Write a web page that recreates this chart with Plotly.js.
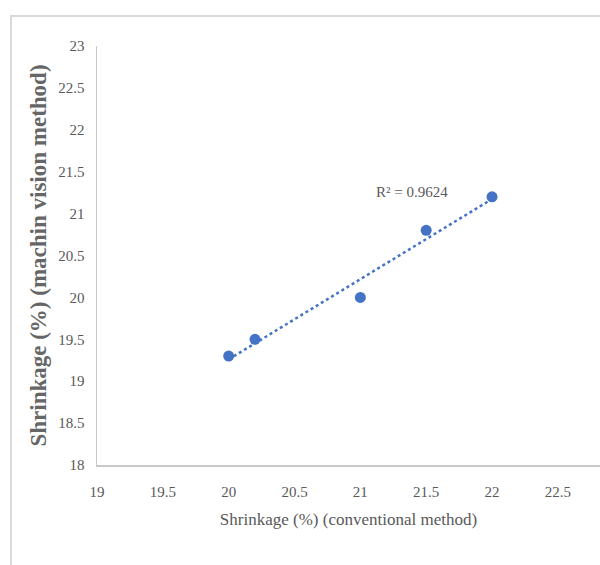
<!DOCTYPE html>
<html>
<head>
<meta charset="utf-8">
<script src="https://cdn.plot.ly/plotly-3.0.1.min.js"></script>
<style>html,body{margin:0;padding:0;background:#fff;}#chart{width:600px;height:565px;}</style>
</head>
<body>
<div id="chart"></div>
<script>
var conventional = [20, 20.2, 21, 21.5, 22];
var machineVision = [19.3, 19.5, 20, 20.8, 21.2];
var r2Label = 'R² = 0.9624';
var xTitle = 'Shrinkage (%) (conventional method)';
var yTitle = 'Shrinkage (%) (machin vision method)';

// least-squares trendline from the data
var n = conventional.length, mx = 0, my = 0;
for (var i = 0; i < n; i++) { mx += conventional[i]; my += machineVision[i]; }
mx /= n; my /= n;
var sxy = 0, sxx = 0;
for (var i = 0; i < n; i++) { sxy += (conventional[i]-mx)*(machineVision[i]-my); sxx += (conventional[i]-mx)*(conventional[i]-mx); }
var slope = sxy / sxx, icpt = my - slope * mx;
var xmin = Math.min.apply(null, conventional), xmax = Math.max.apply(null, conventional);
var trendX = [xmin, xmax];
var trendY = [icpt + slope * xmin, icpt + slope * xmax];

var font = 'Liberation Serif, Times New Roman, serif';
var grey = '#595959';

var traces = [
  {x: trendX, y: trendY, mode: 'lines', line: {color: '#4472C4', width: 2.5, dash: 'dot'}, hoverinfo: 'skip', showlegend: false},
  {x: conventional, y: machineVision, mode: 'markers', marker: {color: '#4472C4', size: 11}, showlegend: false}
];

var layout = {
  width: 600, height: 565,
  margin: {l: 97, r: 0, t: 46, b: 100},
  paper_bgcolor: '#fff', plot_bgcolor: '#fff',
  font: {family: font, color: grey, size: 15},
  xaxis: {
    range: [19, 22.82], dtick: 0.5, tick0: 19, showgrid: false, zeroline: false,
    showline: true, linecolor: '#c8c8c8', linewidth: 1.5, ticks: '',
    ticklabelstandoff: 12,
    tickfont: {family: font, size: 15, color: grey},
    title: {text: xTitle, font: {family: font, size: 17, color: grey}, standoff: 14}
  },
  yaxis: {
    range: [18, 23], dtick: 0.5, tick0: 18, showgrid: false, zeroline: false,
    showline: true, linecolor: '#c8c8c8', linewidth: 1.5, ticks: '',
    ticklabelstandoff: 8,
    tickfont: {family: font, size: 15, color: grey},
    title: {text: '<b>' + yTitle + '</b>', font: {family: font, size: 23, color: '#666666'}, standoff: 5}
  },
  annotations: [
    {x: 21.39, y: 21.26, xref: 'x', yref: 'y', text: r2Label, showarrow: false,
     font: {family: font, size: 15, color: grey}}
  ],
  shapes: [
    {type: 'rect', xref: 'paper', yref: 'paper', x0: -0.171, x1: 1.2, y0: -0.4, y1: 1.0716,
     line: {color: '#d9d9d9', width: 2}, fillcolor: 'rgba(0,0,0,0)', layer: 'below'}
  ]
};

Plotly.newPlot('chart', traces, layout, {displayModeBar: false, staticPlot: true});
</script>
</body>
</html>
